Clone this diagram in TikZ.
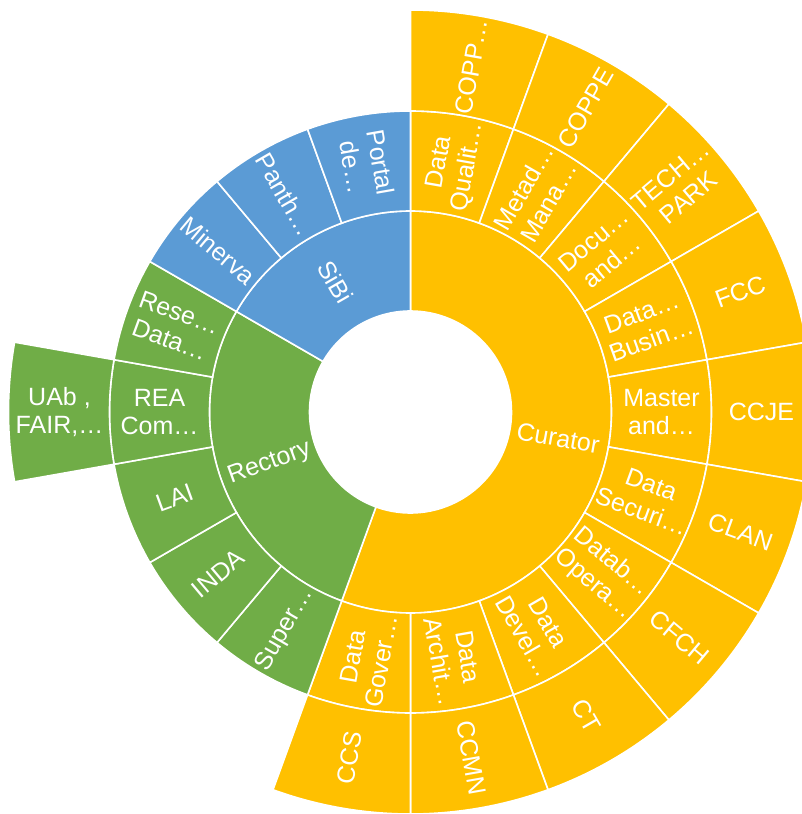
\documentclass[tikz,border=0pt]{standalone}
\usepackage{fontspec}
\setmainfont{Liberation Sans}
\definecolor{cur}{HTML}{FFC000}
\definecolor{rec}{HTML}{70AD47}
\definecolor{sib}{HTML}{5B9BD5}
\tikzset{
  wedge/.style={draw=white, line width=1.6pt, line join=miter},
  lbl/.style={text=white, font=\fontsize{25}{28.5}\selectfont, align=center, inner sep=0pt},
}
% color, theta1, theta2 (clockwise from top, degrees), r1, r2 (pt)
\newcommand\sbwedge[5]{%
  \pgfmathsetmacro\sbA{90-(#2)}%
  \pgfmathsetmacro\sbB{90-(#3)}%
  \filldraw[wedge, fill=#1] (\sbA:#4pt) arc[start angle=\sbA, end angle=\sbB, radius=#4pt]
    -- (\sbB:#5pt) arc[start angle=\sbB, end angle=\sbA, radius=#5pt] -- cycle;}
% name, theta, radius, text
\newcommand\sblabel[4]{%
  \pgfmathsetmacro\sbrot{#2<=180 ? 90-#2 : 270-#2}%
  \node[lbl, rotate=\sbrot] (#1) at ({90-#2}:#3pt) {#4};}
\begin{document}
\begin{tikzpicture}
\useasboundingbox (-410.5pt,-402pt) rectangle (391.5pt,412pt);
\clip (-410.5pt,-402pt) rectangle (391.5pt,412pt);
% ring 1
\sbwedge{cur}{0}{200}{101}{201}
\sbwedge{rec}{200}{300}{101}{201}
\sbwedge{sib}{300}{360}{101}{201}
% ring 2
\foreach \i in {0,...,9} {\sbwedge{cur}{\i*20}{\i*20+20}{201}{301}}
\foreach \i in {10,...,14} {\sbwedge{rec}{\i*20}{\i*20+20}{201}{301}}
\foreach \i in {15,...,17} {\sbwedge{sib}{\i*20}{\i*20+20}{201}{301}}
% ring 3
\foreach \i in {0,...,9} {\sbwedge{cur}{\i*20}{\i*20+20}{301}{402}}
\sbwedge{rec}{260}{280}{301}{402}
% ring 1 labels
\sblabel{curator}{100}{150}{Curator}
\sblabel{rectory}{250}{150}{Rectory}
\sblabel{sibi}{330}{150}{SiBi}
% ring 2 labels
\sblabel{dq}{10}{251}{Data\\Qualit…}
\sblabel{mm}{30}{251}{Metad…\\Mana…}
\sblabel{da}{50}{251}{Docu…\\and…}
\sblabel{db}{70}{251}{Data…\\Busin…}
\sblabel{ma}{90}{251}{Master\\and…}
\sblabel{ds}{110}{251}{Data\\Securi…}
\sblabel{do}{130}{251}{Datab…\\Opera…}
\sblabel{dd}{150}{251}{Data\\Devel…}
\sblabel{dar}{170}{251}{Data\\Archit…}
\sblabel{dg}{190}{251}{Data\\Gover…}
\sblabel{sup}{210}{251}{Super…}
\sblabel{inda}{230}{251}{INDA}
\sblabel{lai}{250}{251}{LAI}
\sblabel{rea}{270}{251}{REA\\Com…}
\sblabel{rese}{290}{251}{Rese…\\Data…}
\sblabel{min}{310}{251}{Minerva}
\sblabel{pan}{330}{251}{Panth…}
\sblabel{por}{350}{251}{Portal\\de…}
% ring 3 labels
\sblabel{copp}{10}{351}{COPP…}
\sblabel{coppe}{30}{351}{COPPE}
\sblabel{tech}{50}{351}{TECH…\\PARK}
\sblabel{fcc}{70}{351}{FCC}
\sblabel{ccje}{90}{351}{CCJE}
\sblabel{clan}{110}{351}{CLAN}
\sblabel{cfch}{130}{351}{CFCH}
\sblabel{ct}{150}{351}{CT}
\sblabel{ccmn}{170}{351}{CCMN}
\sblabel{ccs}{190}{351}{CCS}
\sblabel{uab}{270}{351}{UAb ,\\FAIR,…}
\end{tikzpicture}
\end{document}
